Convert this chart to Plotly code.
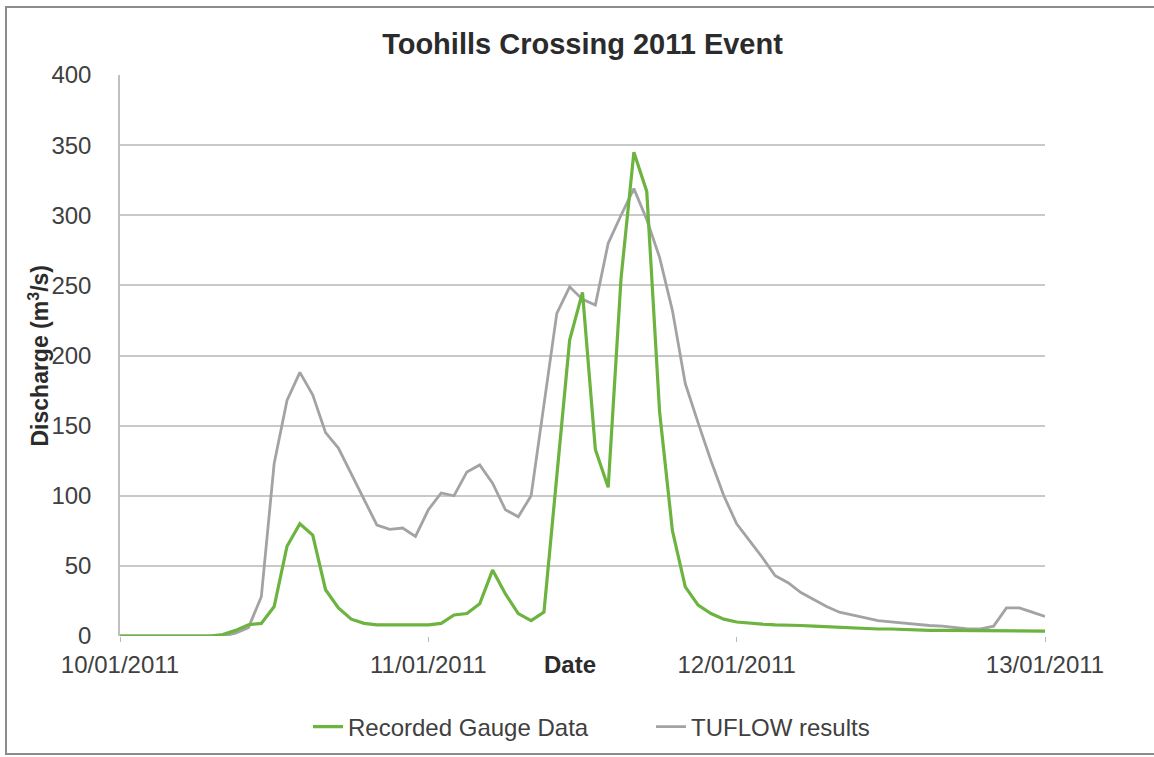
import pandas as pd
import plotly.graph_objects as go

# Hourly discharge, 10/01/2011 00:00 to 13/01/2011 00:00 (m3/s)
times = pd.date_range("2011-01-10 00:00", "2011-01-13 00:00", freq="h")

recorded_gauge = [
    0, 0, 0, 0, 0, 0, 0, 0, 1, 4,           # h0-9
    8, 9, 21, 64, 80, 72, 33, 20, 12, 9,    # h10-19
    8, 8, 8, 8, 8, 9, 15, 16, 23, 47,       # h20-29
    30, 16, 11, 17, 114, 211, 245, 133, 106, 255,  # h30-39
    345, 317, 160, 75, 35, 22, 16, 12, 10, 9,      # h40-49
    8.5, 8, 8, 7.5, 7, 6.5, 6, 5.5, 5, 5,          # h50-59
    5, 4.5, 4.5, 4, 4, 4, 4, 3.5, 3.5, 3.5,        # h60-69
    3.5, 3.5, 3.5,                                 # h70-72
]

tuflow_results = [
    0, 0, 0, 0, 0, 0, 0, 0, 0, 2,              # h0-9
    6, 28, 123, 168, 188, 172, 145, 134, 116, 97,   # h10-19
    79, 76, 77, 71, 90, 102, 100, 117, 122, 109,    # h20-29
    90, 85, 100, 165, 230, 249, 240, 236, 280, 300, # h30-39
    319, 297, 270, 232, 180, 152, 125, 100, 80, 68, # h40-49
    56, 43, 38, 31, 26, 21, 17, 15, 13, 11,         # h50-59
    10, 9, 8, 7.5, 7, 6, 5, 5, 7, 20,               # h60-69
    20, 17, 14,                                     # h70-72
]

tick_dates = ["2011-01-10", "2011-01-11", "2011-01-12", "2011-01-13"]
tick_labels = ["10/01/2011", "11/01/2011", "12/01/2011", "13/01/2011"]
y_ticks = [0, 50, 100, 150, 200, 250, 300, 350, 400]

GREEN = "#6cb33f"
GREY = "#a3a3a6"
TEXT = "#404040"
DARK = "#2b2b2b"
FONT = "Liberation Sans, Arial, sans-serif"

fig = go.Figure()
fig.add_trace(go.Scatter(
    x=times, y=tuflow_results, mode="lines", name="TUFLOW results",
    line=dict(color=GREY, width=2.8), legendrank=2,
))
fig.add_trace(go.Scatter(
    x=times, y=recorded_gauge, mode="lines", name="Recorded Gauge Data",
    line=dict(color=GREEN, width=3.2), legendrank=1,
))

fig.update_layout(
    width=1154, height=757,
    margin=dict(l=120, r=109, t=75, b=121, autoexpand=False),
    paper_bgcolor="white", plot_bgcolor="white",
    font=dict(family=FONT, color=TEXT, size=24),
    title=dict(
        text="<b>Toohills Crossing 2011 Event</b>",
        x=0.5, xref="paper", xanchor="center",
        y=1 - 44 / 757, yanchor="middle",
        font=dict(family=FONT, size=29, color=DARK),
    ),
    showlegend=True,
    legend=dict(
        orientation="h", x=(308 - 120) / 925, xanchor="left",
        y=-(727 - 636) / 561, yanchor="middle",
        font=dict(family=FONT, size=24, color=TEXT),
        entrywidth=298, entrywidthmode="pixels",
        traceorder="normal",
    ),
    xaxis=dict(
        range=[times[0], times[-1]],
        tickvals=tick_dates, ticktext=tick_labels,
        showgrid=False, zeroline=False,
        showline=False, automargin=False,
        ticks="outside", ticklen=5, tickcolor="#b8b8b8", tickwidth=1,
        tickfont=dict(family=FONT, size=24, color=TEXT),
        ticklabelstandoff=2,
    ),
    yaxis=dict(
        range=[0, 400], tickvals=y_ticks,
        showgrid=True, gridcolor="#c9c9c9", gridwidth=1.5,
        zeroline=False, automargin=False,
        showline=True, linecolor="#c0c0c0", linewidth=1.5,
        ticks="", tickfont=dict(family=FONT, size=24, color=TEXT),
        ticklabelstandoff=22,
    ),
    annotations=[
        dict(
            text="<b>Discharge (m<sup>3</sup>/s)</b>", xref="paper", yref="paper",
            x=(38 - 120) / 925, y=0.5, textangle=-90,
            xanchor="center", yanchor="middle", showarrow=False,
            font=dict(family=FONT, size=23, color=DARK),
        ),
        dict(
            text="<b>Date</b>", xref="paper", yref="paper",
            x=(570 - 120) / 925, y=-(664 - 636) / 561,
            xanchor="center", yanchor="middle", showarrow=False,
            font=dict(family=FONT, size=24, color=DARK),
        ),
    ],
    shapes=[dict(
        type="rect", xref="paper", yref="paper",
        x0=(6 - 120) / 925, x1=(1170 - 120) / 925,
        y0=(636 - 754) / 561, y1=(636 - 7) / 561,
        line=dict(color="#8c8c8c", width=2), fillcolor="rgba(0,0,0,0)",
        layer="below",
    )],
)

fig.write_html("out.html")
